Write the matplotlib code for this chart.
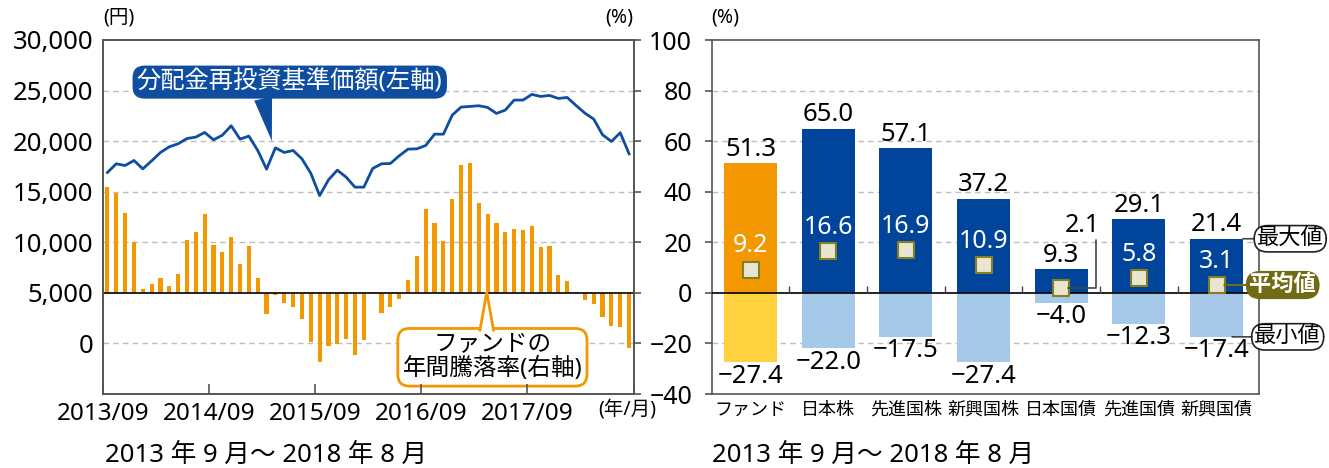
import numpy as np
import matplotlib.pyplot as plt
from matplotlib.patches import Polygon
from matplotlib.transforms import IdentityTransform

plt.rcParams['font.family'] = ['Noto Sans', 'Noto Sans CJK JP', 'DejaVu Sans']

# 分配金再投資基準価額（円）: 2013/09 - 2018/08
nav = [16900, 17760, 17590, 18090, 17260, 18050, 18880, 19440, 19740, 20260,
       20400, 20860, 20130, 20590, 21520, 20200, 20500, 19080, 17230, 19340,
       18880, 19080, 18250, 16830, 14620, 16170, 17130, 16440, 15450, 15450,
       17290, 17760, 17790, 18550, 19210, 19240, 19570, 20690, 20690, 22570,
       23370, 23430, 23500, 23330, 22740, 23070, 24060, 24060, 24620, 24420,
       24520, 24220, 24320, 23530, 22770, 22180, 20630, 19970, 20830, 18750]

# ファンドの年間騰落率（%）
ret = [42.0, 39.6, 31.6, 20.2, 1.7, 3.7, 6.0, 2.9, 7.6, 21.0,
       24.1, 31.2, 19.0, 16.0, 22.2, 11.5, 18.6, 6.0, -8.4, -0.7,
       -4.1, -5.6, -10.4, -19.4, -27.3, -21.2, -20.2, -18.2, -24.4, -18.6,
       0.5, -8.0, -5.5, -2.4, 5.0, 14.7, 33.2, 27.7, 20.6, 37.1,
       50.6, 51.3, 35.5, 31.2, 27.7, 23.9, 25.3, 24.9, 26.6, 18.2,
       18.6, 7.2, 4.5, 0.5, -3.0, -4.6, -9.6, -13.1, -13.5, -21.9]

year_labels = ['2013/09', '2014/09', '2015/09', '2016/09', '2017/09']

categories = ['ファンド', '日本株', '先進国株', '新興国株', '日本国債', '先進国債', '新興国債']
max_vals = [51.3, 65.0, 57.1, 37.2, 9.3, 29.1, 21.4]
avg_vals = [9.2, 16.6, 16.9, 10.9, 2.1, 5.8, 3.1]
min_vals = [-27.4, -22.0, -17.5, -27.4, -4.0, -12.3, -17.4]

period = '2013 年 9 月～ 2018 年 8 月'

orange = '#F39800'
yellow = '#FDD23E'
navy = '#00449B'
light = '#A6C9EA'
line_blue = '#0E4DA0'
olive = '#716C14'
grid_c = '#BDBDBD'
spine_c = '#555555'

W, H = 1329, 468
fig = plt.figure(figsize=(W / 100, H / 100), dpi=100)

# ---------- 左のグラフ ----------
ax1 = fig.add_axes([103 / W, 1 - 394 / H, 530.5 / W, 354 / H])
ax1b = ax1.twinx()
ax1.set_zorder(ax1b.get_zorder() + 1)
ax1.patch.set_visible(False)

months = np.arange(len(nav)) + 0.5
ax1b.bar(months, ret, width=0.47, color=orange, zorder=2)
ax1b.set_ylim(-40, 100)
for v in [-20, 20, 40, 60, 80]:
    ax1b.axhline(v, color=grid_c, lw=1, ls=(0, (4, 3)), zorder=0)
ax1b.axhline(0, color='black', lw=1.2, zorder=3)
ax1b.set_yticks(np.arange(-40, 101, 20))
ax1b.tick_params(axis='y', direction='out', length=5, width=1.2, color=spine_c, labelright=False)

ax1.plot(months, nav, color=line_blue, lw=2, zorder=4)
ax1.set_xlim(0, len(nav))
ax1.set_ylim(-5000, 30000)
ax1.set_yticks(np.arange(0, 30001, 5000))
ax1.set_yticklabels([f'{v:,}' for v in range(0, 30001, 5000)])
ax1.tick_params(axis='y', length=0, pad=7, labelsize=18.5)
ax1.set_xticks(np.arange(0, len(nav) + 1, 12))
ax1.set_xticklabels(year_labels + [''])
ax1.tick_params(axis='x', direction='in', length=7, width=1.2, color=spine_c, pad=6, labelsize=17.5)
for a in (ax1, ax1b):
    for s in a.spines.values():
        s.set_color(spine_c)
        s.set_linewidth(1.2)

# 吹き出し（基準価額）
ax1.annotate('分配金再投資基準価額(左軸)', xy=(19.1, 20000), xytext=(0.352, 0.881),
             textcoords='axes fraction', ha='center', va='center', color='white', fontsize=17.5,
             bbox=dict(boxstyle='round,pad=0.18,rounding_size=0.5', fc=line_blue, ec='none'),
             arrowprops=dict(arrowstyle='wedge,tail_width=0.75', fc=line_blue, ec='none',
                             relpos=(0.41, 0.0), shrinkA=0, shrinkB=0), zorder=6)

# 吹き出し（騰落率）
tip = (43.4, 0.3)
callout = ax1b.annotate('ファンドの\n年間騰落率(右軸)', xy=tip, xytext=(0.734, 0.1037),
                        textcoords='axes fraction', ha='center', va='center', fontsize=17,
                        linespacing=1.0, zorder=6,
                        bbox=dict(boxstyle='round,pad=0.2,rounding_size=0.5', fc='white', ec=orange, lw=2))

fig.text(103 / W, 1 - 18 / H, '(円)', fontsize=14, va='center')
fig.text(633 / W, 1 - 18 / H, '(%)', fontsize=14, va='center', ha='right')
fig.text(598 / W, 1 - 410 / H, '(年/月)', fontsize=14, va='center')
fig.text(105 / W, 1 - 455 / H, period, fontsize=18.5, va='center')

# ---------- 右のグラフ ----------
ax2 = fig.add_axes([711.7 / W, 1 - 394 / H, 547.6 / W, 354 / H])
x = np.arange(len(categories))
ax2.set_xlim(-0.5, len(categories) - 0.45)
ax2.set_ylim(-40, 100)
for v in [-20, 20, 40, 60, 80]:
    ax2.axhline(v, color=grid_c, lw=1, ls=(0, (4, 3)), zorder=0)

ax2.bar(x, max_vals, width=0.68, color=[orange] + [navy] * 6, zorder=2)
ax2.bar(x, min_vals, width=0.68, color=[yellow] + [light] * 6, zorder=2)
ax2.axhline(0, color='black', lw=1.2, zorder=3)
ax2.vlines(x[:-1] + 0.5, 0, 2.8, color='#444444', lw=1, zorder=3)
ax2.scatter(x, avg_vals, marker='s', s=120, fc='#E9E5D0', ec='#857F22', lw=1.5, zorder=5)

for i, (mx, av, mn) in enumerate(zip(max_vals, avg_vals, min_vals)):
    ax2.annotate(f'{mx:.1f}', (i, mx), xytext=(0, 1), textcoords='offset points',
                 ha='center', va='bottom', fontsize=18.5)
    ax2.annotate(f'{mn:.1f}'.replace('-', '−'), (i, mn), xytext=(0, -1), textcoords='offset points',
                 ha='center', va='top', fontsize=18.5)
    if mx - av > 12:
        ax2.annotate(f'{av:.1f}', (i, av), xytext=(0, 17), textcoords='offset points',
                     ha='center', va='center', fontsize=18, color='white', zorder=6)
    else:
        ax2.annotate(f'{av:.1f}', (i, av), xytext=(15, 45), textcoords='offset points',
                     ha='center', va='center', fontsize=18, zorder=6,
                     arrowprops=dict(arrowstyle='-', color='#444444', lw=1.2, relpos=(0.9, 0.05),
                                     connectionstyle='angle,angleA=90,angleB=0,rad=0',
                                     shrinkA=0, shrinkB=5))

# 凡例ラベル
last = len(categories) - 1
lab_kw = dict(textcoords='offset points', ha='center', va='center', fontsize=16,
              annotation_clip=False, zorder=8)
ax2.annotate('最大値', (last + 0.34, max_vals[-1]), xytext=(34, 0),
             bbox=dict(boxstyle='round,pad=0.12,rounding_size=0.6', fc='white', ec='#222222', lw=1.2),
             arrowprops=dict(arrowstyle='-', color='#444444', lw=1.2, shrinkA=0, shrinkB=0), **lab_kw)
ax2.annotate('平均値', (last + 0.1, avg_vals[-1]), xytext=(42, 0), color='white', fontweight='bold',
             bbox=dict(boxstyle='round,pad=0.12,rounding_size=0.6', fc=olive, ec=olive, lw=1.2),
             arrowprops=dict(arrowstyle='-', color=olive, lw=1.5, shrinkA=0, shrinkB=0), **lab_kw)
ax2.annotate('最小値', (last + 0.2, min_vals[-1]), xytext=(40, 0),
             bbox=dict(boxstyle='round,pad=0.12,rounding_size=0.6', fc='white', ec='#222222', lw=1.2),
             arrowprops=dict(arrowstyle='-', color='#444444', lw=1.2, shrinkA=0, shrinkB=0), **lab_kw)

ax2.set_yticks(np.arange(-40, 101, 20))
ax2.tick_params(axis='y', direction='out', length=5, width=1.2, color=spine_c, pad=9, labelsize=18)
ax2.set_xticks(x)
ax2.set_xticklabels(categories)
ax2.tick_params(axis='x', length=0, pad=5, labelsize=13)
for s in ax2.spines.values():
    s.set_color(spine_c)
    s.set_linewidth(1.2)

fig.text(711.7 / W, 1 - 18 / H, '(%)', fontsize=14, va='center')
fig.text(712 / W, 1 - 455 / H, period, fontsize=18.5, va='center')

# 騰落率の吹き出しの突起（箱の位置が決まってから描く）
fig.canvas.draw()
box = callout.get_bbox_patch().get_window_extent()
tx, ty = ax1b.transData.transform(tip)
half = 7
pointer = Polygon([[tx - half, box.y1 - 3], [tx, ty], [tx + half, box.y1 - 3]], closed=False,
                  fc='white', ec=orange, lw=2, joinstyle='miter',
                  transform=IdentityTransform(), zorder=7, clip_on=False)
ax1b.add_patch(pointer)

fig.savefig('out.png', dpi=100)
